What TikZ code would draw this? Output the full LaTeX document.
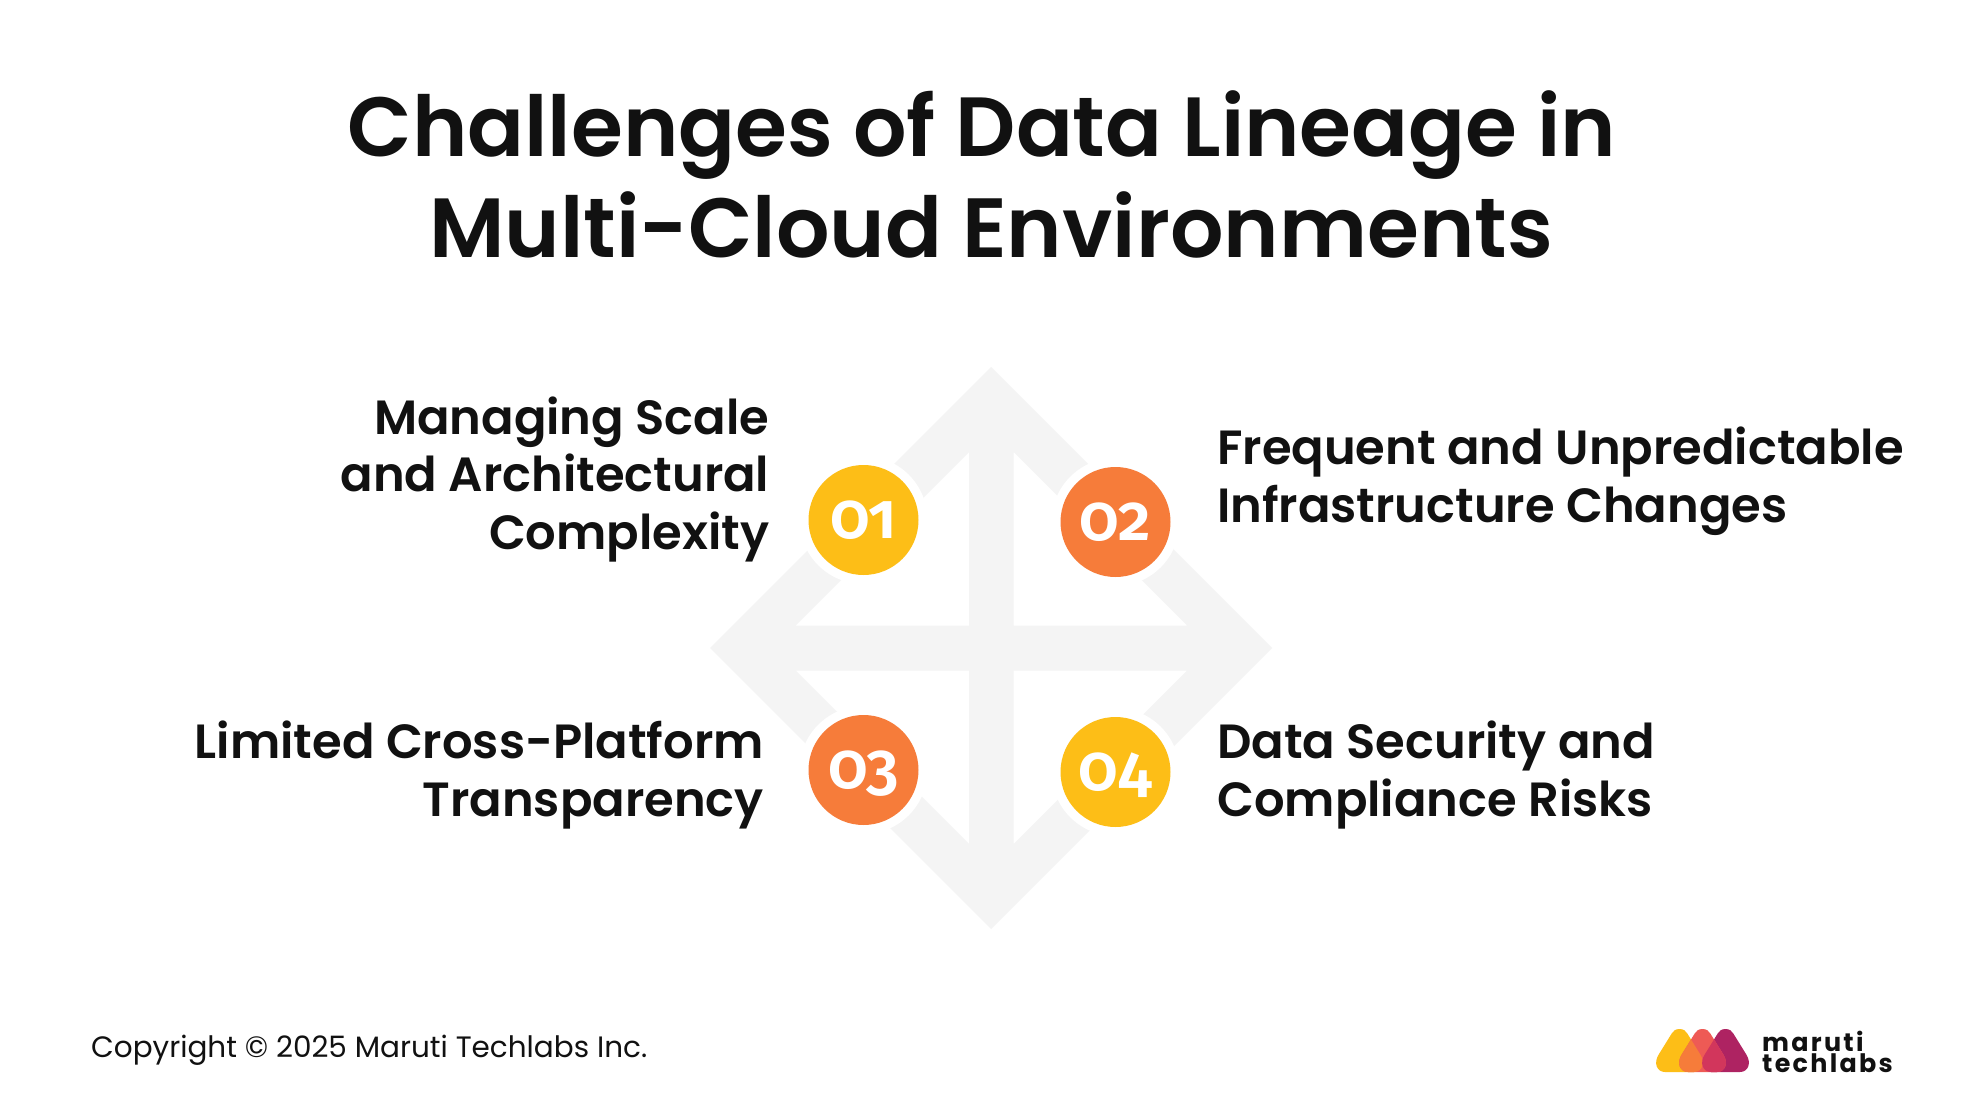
\documentclass[tikz,border=0pt]{standalone}
\usepackage{fontspec}
\setmainfont{Poppins}
\newfontfamily\popsemi{Poppins SemiBold}
\newfontfamily\digits[Numbers=OldStyle]{Fira Sans SemiBold}
\newfontfamily\poplogo[LetterSpace=9]{Poppins Bold}
\definecolor{ink}{HTML}{111111}
\definecolor{band}{HTML}{F4F4F4}
\definecolor{myellow}{HTML}{FDBE17}
\definecolor{morange}{HTML}{F67C3A}
\definecolor{mred}{HTML}{EE5A55}
\definecolor{mmag}{HTML}{AE2362}
\definecolor{mdark}{HTML}{D2365C}
\newcommand{\numtext}[1]{\raisebox{-18pt}[0pt][0pt]{\scalebox{0.98}[1]{#1}}}
\tikzset{
  x=1pt,y=-1pt,
  titlet/.style={font=\popsemi\fontsize{84}{101}\selectfont,text=ink,align=center,inner sep=0pt},
  lbl/.style={font=\popsemi\fontsize{48}{57.5}\selectfont,text=ink,inner sep=0pt},
  lblr/.style={lbl,align=right,anchor=north east},
  lbll/.style={lbl,align=left,anchor=north west},
  ring/.style={circle,fill=white,minimum size=128pt,inner sep=0pt},
  disc/.style={circle,minimum size=110pt,inner sep=0pt,text=white,font=\digits\fontsize{65}{65}\selectfont},
}
\newcommand{\blobpath}[1]{[shift={(#1,0)}] (23.5,1029) .. controls (19,1029) and (17.5,1031) .. (15.7,1033.5) -- (3,1054) .. controls (-3,1063) and (1,1072) .. (9,1072) -- (38,1072) .. controls (46,1072) and (50,1063) .. (44,1054) -- (31.3,1033.5) .. controls (29.5,1031) and (28,1029) .. (23.5,1029) -- cycle}
\begin{document}
\begin{tikzpicture}
\useasboundingbox (0,0) rectangle (1982,1113);
\fill[white] (0,0) rectangle (1982,1113);
\node[titlet] (title) at (991,174.5) {Challenges of Data Lineage in\hspace*{18pt}\\Multi-Cloud Environments};
\fill[band,even odd rule]
  (991,367) -- (1272,648) -- (991,929) -- (710,648) -- cycle
  (969,452) -- (969,625.5) -- (795.5,625.5) -- cycle
  (1013.5,452) -- (1013.5,625.5) -- (1187,625.5) -- cycle
  (969,844) -- (969,670.5) -- (795.5,670.5) -- cycle
  (1013.5,844) -- (1013.5,670.5) -- (1187,670.5) -- cycle;
\node[ring] (r1) at (863.5,520) {};
\node[ring] (r2) at (1115.5,522) {};
\node[ring] (r3) at (863.5,770) {};
\node[ring] (r4) at (1115.5,772) {};
\node[disc,fill=myellow] (d1) at (863.5,520) {\numtext{01}};
\node[disc,fill=morange] (d2) at (1115.5,522) {\numtext{02}};
\node[disc,fill=morange] (d3) at (863.5,770) {\numtext{03}};
\node[disc,fill=myellow] (d4) at (1115.5,772) {\numtext{04}};
\node[lblr] (l1) at (769.5,396.5) {Managing Scale\\and Architectural\\Complexity};
\node[lbll] (l2) at (1217,427) {Frequent and Unpredictable\\Infrastructure Changes};
\node[lblr] (l3) at (764,721) {Limited Cross-Platform\\Transparency};
\node[lbll] (l4) at (1217,721) {Data Security and\\Compliance Risks};
\node[anchor=west,inner sep=0pt,text=ink,font=\fontsize{29.46}{36}\selectfont] (copy) at (91,1050) {Copyright © 2025 Maruti Techlabs Inc.};
% logo
\fill[myellow] \blobpath{1656};
\fill[mmag] \blobpath{1702};
\fill[mred] \blobpath{1679};
\begin{scope}
  \clip \blobpath{1656};
  \fill[morange] \blobpath{1679};
\end{scope}
\begin{scope}
  \clip \blobpath{1702};
  \fill[mdark] \blobpath{1679};
\end{scope}
\node[anchor=north west,inner sep=0pt,align=left,text=ink,font=\poplogo\fontsize{25.4}{20.5}\selectfont] (lg) at (1762,1031) {maruti\\techlabs};
\end{tikzpicture}
\end{document}
